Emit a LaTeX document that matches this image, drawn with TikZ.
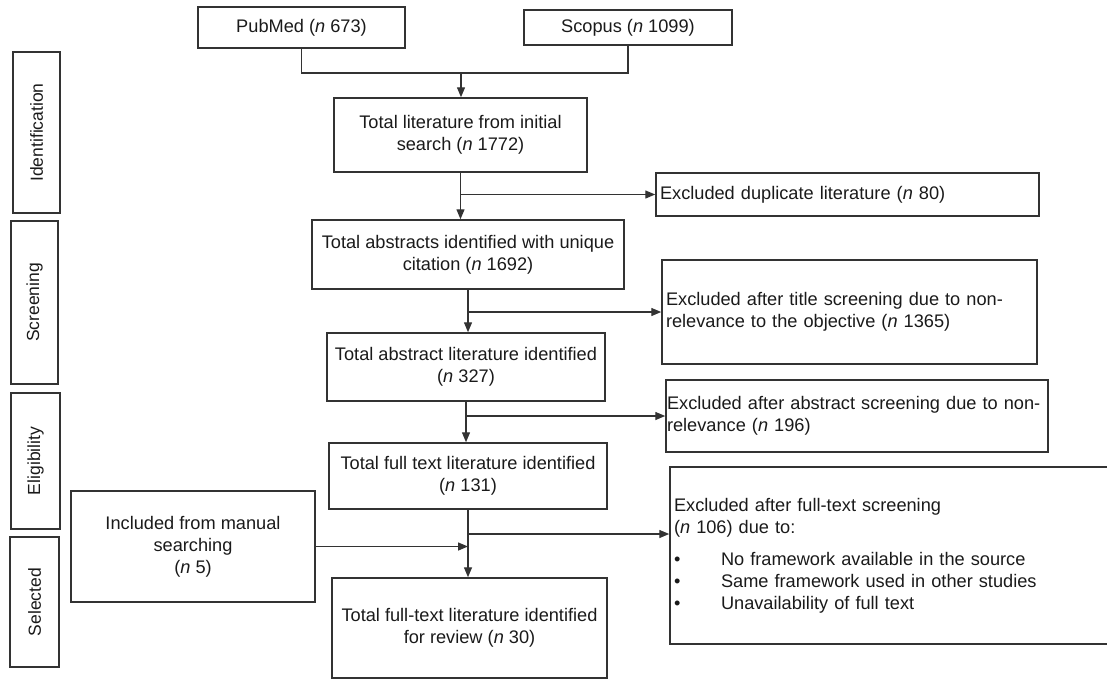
\documentclass[tikz,border=0pt]{standalone}
\usepackage{fontspec}
\setmainfont{Liberation Sans}
\usetikzlibrary{arrows.meta}
\definecolor{ln}{HTML}{333333}
\definecolor{tx}{HTML}{1A1A1A}
\newcommand{\flowfont}{\fontsize{18.2pt}{22pt}\selectfont}
\newcommand{\stagefont}{\fontsize{17.5pt}{21pt}\selectfont}
\newcommand{\bul}{\makebox[47pt][l]{\textbullet}}

\begin{document}
\begin{tikzpicture}[x=1pt,y=-1pt,>={Triangle[length=10pt,width=8pt]},font=\flowfont,text=tx]
\tikzstyle{bx}=[draw=ln,line width=1.5pt,align=center,inner sep=0pt]
\tikzstyle{exc}=[bx,align=left,inner xsep=4pt]
\tikzstyle{stg}=[bx,rotate=90,font=\stagefont]
\tikzstyle{ar}=[->,draw=ln,line width=1.4pt]
\useasboundingbox (0,0) rectangle (1107,680);
% phases
\node[stg,minimum width=161pt,minimum height=47pt] (ident) at (36.5,132.5) {Identification};
\node[stg,minimum width=163pt,minimum height=47pt] (screen) at (34.5,302.5) {Screening};
\node[stg,minimum width=136pt,minimum height=49pt] (elig) at (35.5,461) {Eligibility};
\node[stg,minimum width=130pt,minimum height=49pt] (sel) at (34.5,602) {Selected};
% sources
\node[bx,minimum width=207pt,minimum height=41pt] (pubmed) at (301.5,27.5) {PubMed (\textit{n} 673)};
\node[bx,minimum width=208pt,minimum height=35pt] (scopus) at (628,27.5) {Scopus (\textit{n} 1099)};
% main column
\node[bx,minimum width=253pt,minimum height=74pt] (init) at (460.5,135) {Total literature from initial\\ search (\textit{n} 1772)};
\node[bx,minimum width=312pt,minimum height=69pt] (uniq) at (468,254.5) {Total abstracts identified with unique\\ citation (\textit{n} 1692)};
\node[bx,minimum width=278pt,minimum height=68pt] (abst) at (466,367) {Total abstract literature identified\\ (\textit{n} 327)};
\node[bx,minimum width=278pt,minimum height=66pt] (full) at (468,476) {Total full text literature identified\\ (\textit{n} 131)};
\node[bx,minimum width=275pt,minimum height=100pt] (review) at (469.5,628) {Total full-text literature identified\\ for review (\textit{n} 30)};
\node[bx,minimum width=244pt,minimum height=111pt] (manual) at (193,546.5) {Included from manual\\ searching\\ (\textit{n} 5)};
% exclusions
\node[exc,minimum height=43pt,text width=375pt] (dup) at (847.5,194.5) {Excluded duplicate literature (\textit{n} 80)};
\node[exc,minimum height=104pt,text width=367pt] (title) at (849.5,312) {Excluded after title screening due to non-\\ relevance to the objective (\textit{n} 1365)};
\node[exc,minimum height=72pt,text width=380pt,inner xsep=1pt] (abstex) at (857,416) {Excluded after abstract screening due to non-\\ relevance (\textit{n} 196)};
\node[exc,minimum height=177pt,text width=432pt] (fullex) at (890,555.5) {Excluded after full-text screening\\ (\textit{n} 106) due to:\\[10pt]
\bul No framework available in the source\\
\bul Same framework used in other studies\\
\bul Unavailability of full text};
% connectors
\coordinate (j1) at (461,73);
\coordinate (j4) at (468,534);
\draw[draw=ln,line width=1.4pt] (pubmed.south) |- (j1) -| (scopus.south);
\draw[ar] (j1) -- (j1 |- init.north);
\draw[ar] (init.south) -- (init.south |- uniq.north);
\draw[ar] (init.south |- dup.west) -- (dup.west);
\draw[ar] (uniq.south) -- (uniq.south |- abst.north);
\draw[ar] (uniq.south |- title.west) -- (title.west);
\draw[ar] (abst.south) -- (abst.south |- full.north);
\draw[ar] (abst.south |- abstex.west) -- (abstex.west);
\draw[ar] (full.south) -- (full.south |- review.north);
\draw[ar] (j4) -- (j4 -| fullex.west);
\draw[ar] (manual.east) -- (manual.east -| full.south);
\end{tikzpicture}
\end{document}
